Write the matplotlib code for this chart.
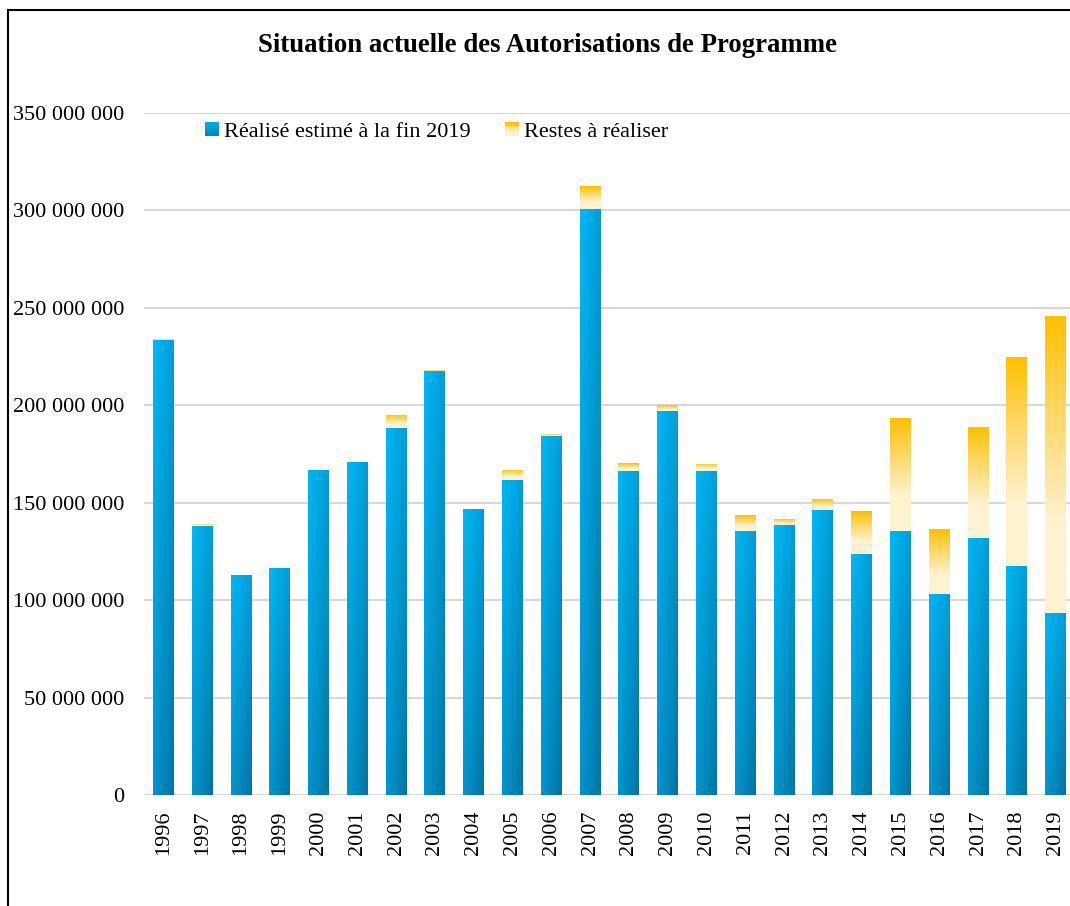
'''
Situation actuelle des Autorisations de Programme (barres empilées avec dégradé)
'''

import numpy as np
import matplotlib
matplotlib.use('Agg')
import matplotlib.pyplot as plt
from matplotlib.colors import to_rgb
from matplotlib.legend_handler import HandlerBase
from matplotlib.patches import Rectangle
from matplotlib.lines import Line2D

plt.rcParams['font.family'] = ['Liberation Serif', 'DejaVu Serif']

# années
years = ['1996', '1997', '1998', '1999', '2000', '2001', '2002', '2003',
         '2004', '2005', '2006', '2007', '2008', '2009', '2010', '2011',
         '2012', '2013', '2014', '2015', '2016', '2017', '2018', '2019']
# réalisé estimé à la fin 2019
realise = [233.5e6, 138.0e6, 112.9e6, 116.5e6, 166.8e6, 170.9e6, 188.3e6, 217.6e6,
           146.8e6, 161.6e6, 184.4e6, 300.7e6, 166.3e6, 197.1e6, 166.3e6, 135.5e6,
           138.6e6, 146.3e6, 123.7e6, 135.5e6, 103.2e6, 131.9e6, 117.5e6, 93.4e6]
# restes à réaliser
restes = [0.3e6, 1.1e6, 0.0, 0.0, 0.0, 0.0, 6.7e6, 0.5e6,
          0.0, 5.2e6, 0.7e6, 11.8e6, 4.1e6, 3.0e6, 3.6e6, 8.2e6,
          3.0e6, 5.6e6, 22.0e6, 58.0e6, 33.3e6, 57.0e6, 107.3e6, 152.4e6]
series_labels = ['Réalisé estimé à la fin 2019', 'Restes à réaliser']
yticks = [0, 50e6, 100e6, 150e6, 200e6, 250e6, 300e6, 350e6]


def blue_gradient(n=64):
    # clair en haut à gauche, foncé en bas à droite
    tl, tr = np.array(to_rgb('#00b8f4')), np.array(to_rgb('#009ed8'))
    bl, br = np.array(to_rgb('#0096ce')), np.array(to_rgb('#0074a4'))
    u = np.linspace(0, 1, n)[None, :, None]
    v = np.linspace(0, 1, n)[:, None, None]  # 0 = haut
    top = tl * (1 - u) + tr * u
    bot = bl * (1 - u) + br * u
    return top * (1 - v) + bot * v


def yellow_gradient(n=64):
    stops = [(0.0, '#ffc000'), (0.35, '#fed96e'), (0.7, '#fef2cf'), (1.0, '#fef2cf')]
    v = np.linspace(0, 1, n)
    pos = [s[0] for s in stops]
    cols = np.array([to_rgb(s[1]) for s in stops])
    rgb = np.stack([np.interp(v, pos, cols[:, k]) for k in range(3)], axis=-1)
    return np.repeat(rgb[:, None, :], 4, axis=1)


def fill_gradient(ax, bars, img):
    for b in bars:
        x, y = b.get_x(), b.get_y()
        w, h = b.get_width(), b.get_height()
        if h <= 0:
            continue
        b.set_facecolor('none')
        b.set_edgecolor('none')
        im = ax.imshow(img, extent=(x, x + w, y, y + h), origin='upper',
                       aspect='auto', interpolation='bilinear', zorder=2)
        im.set_clip_path(b)


class GradientHandler(HandlerBase):
    def __init__(self, img):
        super().__init__()
        self.img = img

    def create_artists(self, legend, orig_handle, xdescent, ydescent,
                       width, height, fontsize, trans):
        n = self.img.shape[0]
        side = height * 1.0
        x0 = xdescent + (width - side) / 2
        y0 = -ydescent + (height - side) / 2
        arts = []
        strips = 12
        for i in range(strips):
            c = self.img[int(i * (n - 1) / (strips - 1)), self.img.shape[1] // 2]
            r = Rectangle((x0, y0 + side * (1 - (i + 1) / strips)), side, side / strips,
                          facecolor=c, edgecolor='none', transform=trans)
            arts.append(r)
        return arts


fig = plt.figure(figsize=(10.7, 9.06), dpi=100)
ax = fig.add_axes([144 / 1070, 111 / 906, 931 / 1070, 682 / 906])

pos = np.arange(len(years))
b1 = ax.bar(pos, realise, width=0.54, zorder=2)
b2 = ax.bar(pos, restes, width=0.54, bottom=realise, zorder=2)
fill_gradient(ax, b1, blue_gradient())
fill_gradient(ax, b2, yellow_gradient())

ax.set_xlim(-0.5, len(years) - 0.5)
ax.set_ylim(0, 350e6)
ax.set_yticks(yticks)
ax.set_yticklabels(['{:,}'.format(int(t)).replace(',', ' ') for t in yticks])
ax.set_xticks(pos)
ax.set_xticklabels(years, rotation=90)
ax.tick_params(axis='y', length=0, pad=14, labelsize=16)
ax.tick_params(axis='x', length=0, pad=11, labelsize=16)
ax.yaxis.grid(True, color='#d9d9d9', linewidth=1.5, zorder=0)
ax.set_axisbelow(True)
for s in ax.spines.values():
    s.set_visible(False)

handles = [Rectangle((0, 0), 1, 1), Rectangle((0, 0), 1, 1)]
ax.legend(handles, series_labels, loc='center left', bbox_to_anchor=(0.055, 0.972),
          ncol=2, frameon=False, fontsize=16, handlelength=0.75, handleheight=0.6,
          handletextpad=0.15, columnspacing=1.5, borderaxespad=0,
          handler_map={handles[0]: GradientHandler(blue_gradient()),
                       handles[1]: GradientHandler(yellow_gradient())})

fig.text(547 / 1070, 1 - 45 / 906, 'Situation actuelle des Autorisations de Programme',
         ha='center', va='center', fontsize=19.3, fontweight='bold')

# cadre du graphique (gauche et haut)
fig.add_artist(Line2D([8 / 1070, 8 / 1070], [0, 1 - 10 / 906], color='black', linewidth=1.5))
fig.add_artist(Line2D([8 / 1070, 1], [1 - 10 / 906, 1 - 10 / 906], color='black', linewidth=1.5))

fig.savefig('out.png', dpi=100)
